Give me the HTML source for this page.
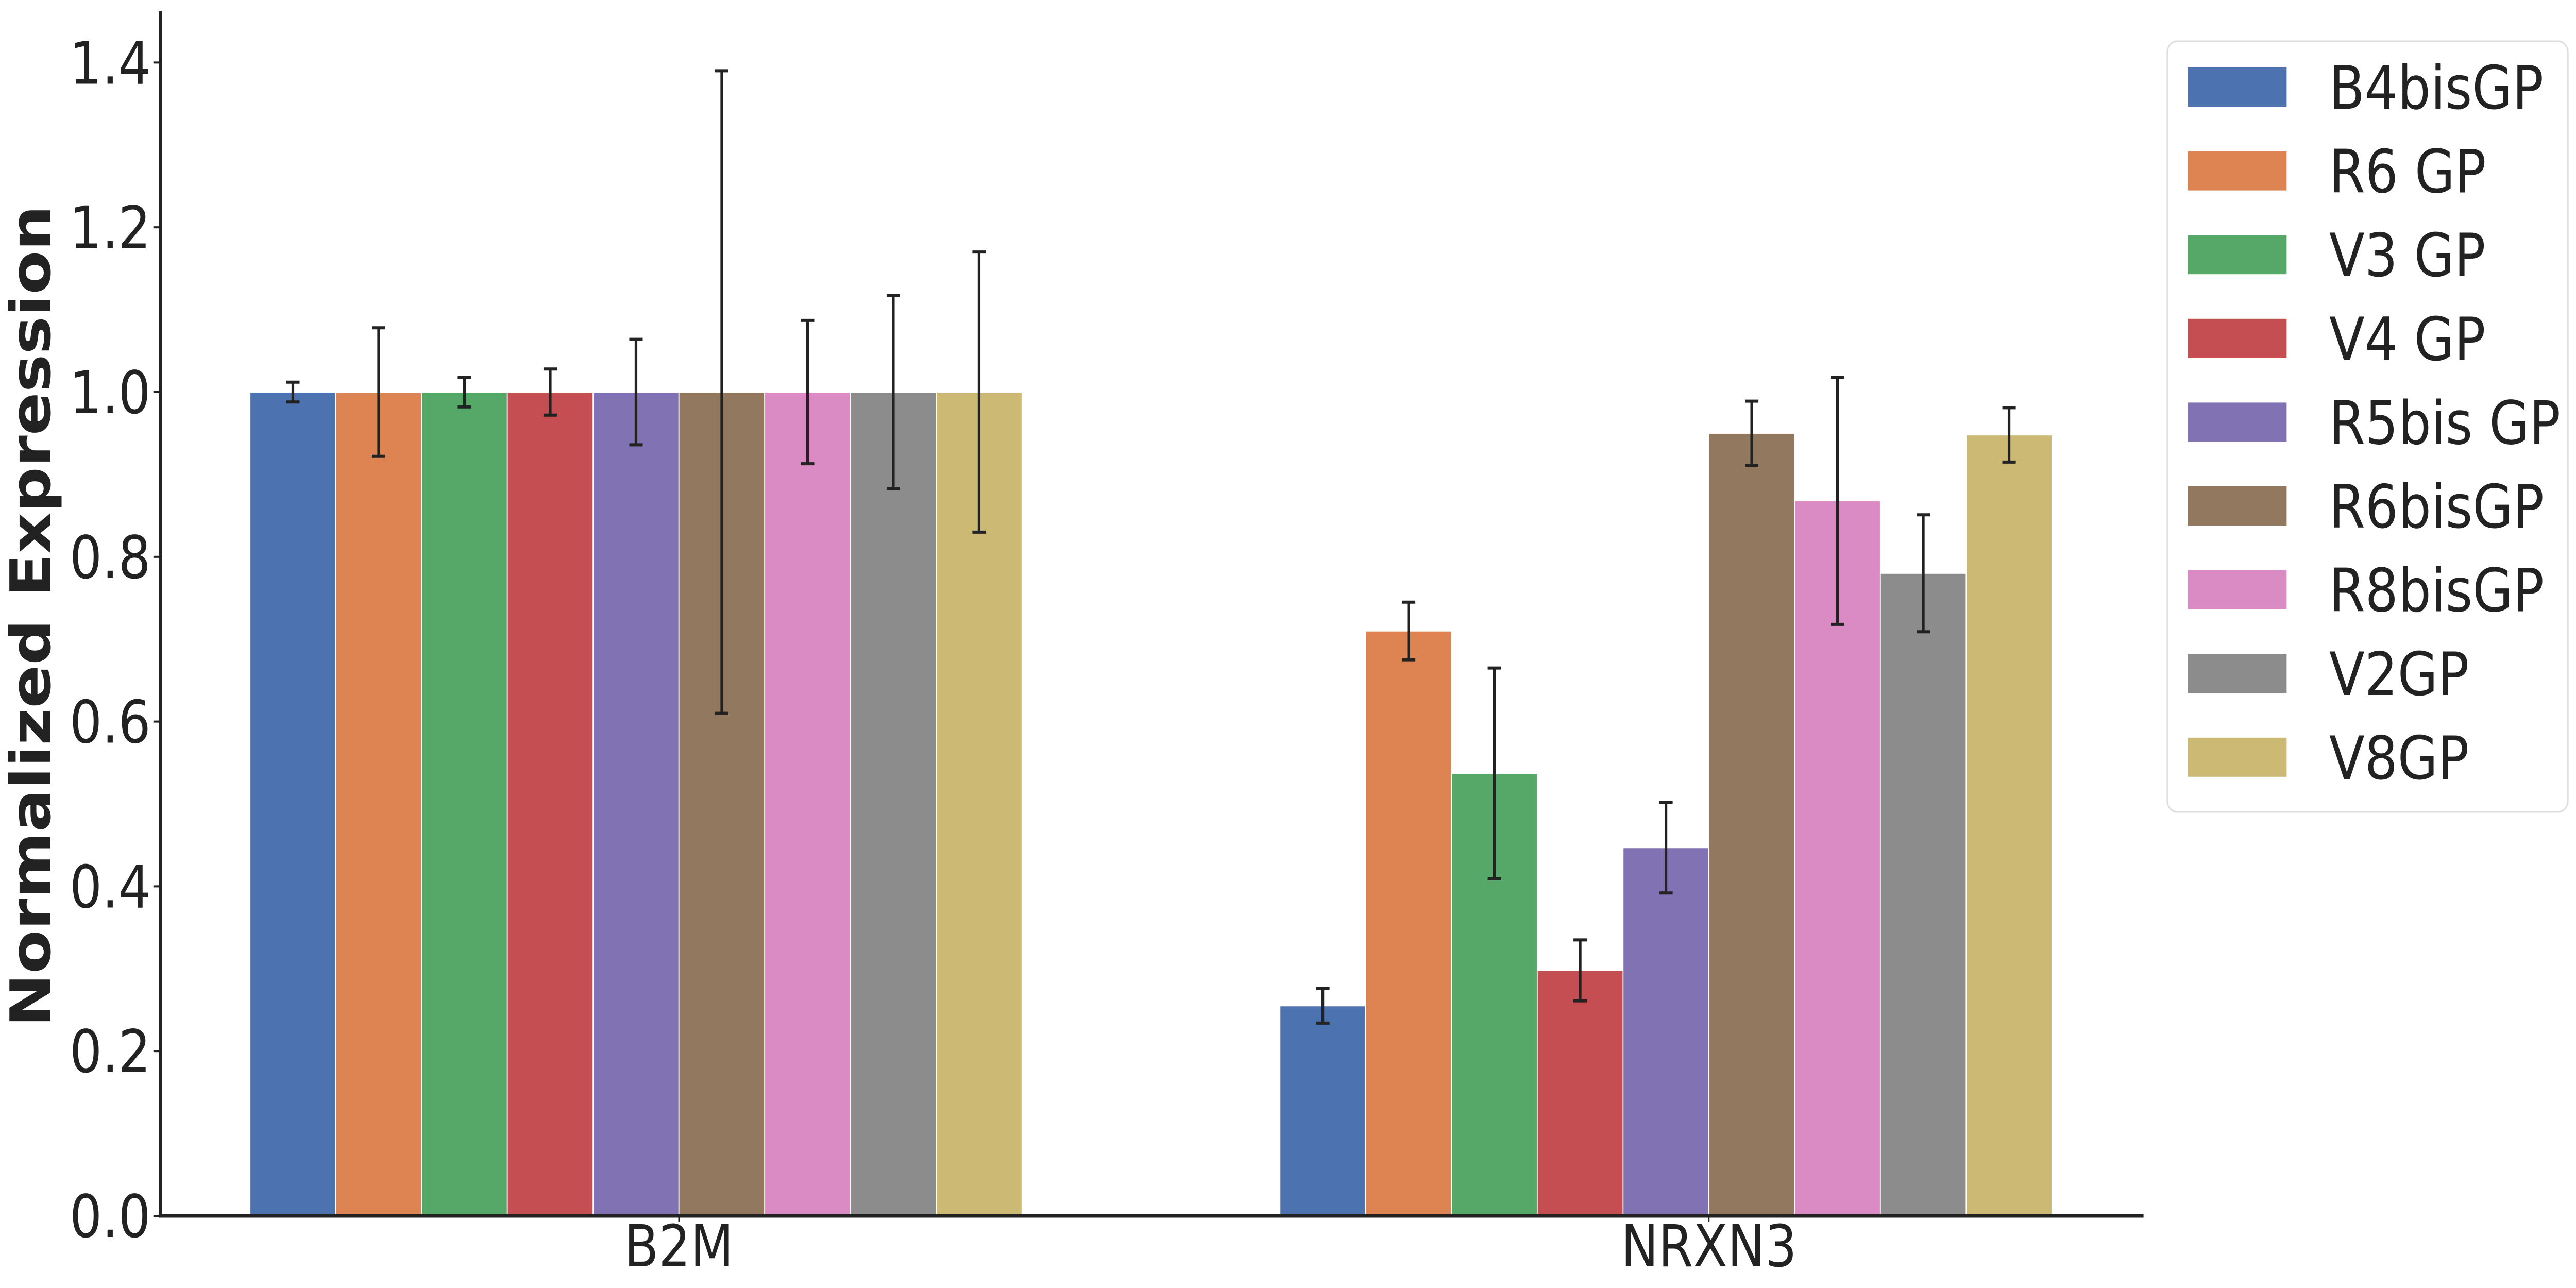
<!DOCTYPE html>
<html><head><meta charset="utf-8"><style>
html,body{margin:0;padding:0;background:#fff;overflow:hidden;width:100%;height:100%;}
svg{display:block;width:100vw;height:100vh;font-family:"DejaVu Sans","Liberation Sans",sans-serif;}
</style></head><body>
<svg id="chart" viewBox="0 0 5760 2500" preserveAspectRatio="none" xmlns="http://www.w3.org/2000/svg">
<g id="bars"></g>
<g id="errs"></g>
<g id="axes"></g>
<g id="legend"></g>
</svg>
<script>
const categories = ["B2M", "NRXN3"];
const seriesNames = ["B4bisGP","R6 GP","V3 GP","V4 GP","R5bis GP","R6bisGP","R8bisGP","V2GP","V8GP"];
const colors = ["#4c72b0","#dd8452","#55a868","#c44e52","#8172b3","#937860","#da8bc3","#8c8c8c","#ccb974"];
const valuesB2M = [1,1,1,1,1,1,1,1,1];
const errorsB2M = [0.012,0.078,0.018,0.028,0.064,0.39,0.087,0.117,0.17];
const valuesNRXN3 = [0.255,0.71,0.537,0.298,0.447,0.95,0.868,0.78,0.948];
const errorsNRXN3 = [0.021,0.035,0.128,0.037,0.055,0.039,0.15,0.071,0.033];
const yTicks = [0,0.2,0.4,0.6,0.8,1.0,1.2,1.4];
const yTickLabels = ["0.0","0.2","0.4","0.6","0.8","1.0","1.2","1.4"];

const NS="http://www.w3.org/2000/svg";
const values=[valuesB2M,valuesNRXN3], errors=[errorsB2M,errorsNRXN3];
const y0=2360, pxPerUnit=1599, xLeft=359, xRight=4793;
const barW=191.8, groupStart=559, groupStep=2303;
function yScale(v){return y0 - v*pxPerUnit;}
function xBar(ci,si){return groupStart + ci*groupStep + si*barW;}
function mk(tag,attrs,parent){const e=document.createElementNS(NS,tag);for(const k in attrs)e.setAttribute(k,attrs[k]);parent.appendChild(e);return e;}
const gB=document.getElementById('bars'), gE=document.getElementById('errs'), gA=document.getElementById('axes'), gL=document.getElementById('legend');

categories.forEach((c,ci)=>{
  seriesNames.forEach((s,si)=>{
    const v=values[ci][si], e=errors[ci][si];
    const x=xBar(ci,si);
    const r=mk('rect',{x:x,y:yScale(v),width:barW,height:yScale(0)-yScale(v),fill:colors[si],stroke:'#fff','stroke-width':2},gB);
    
    
    const cx=x+barW/2;
    const g=mk('g',{stroke:'#222','stroke-width':6},gE);
    
    
    mk('line',{x1:cx,x2:cx,y1:yScale(v+e),y2:yScale(v-e)},g);
    mk('line',{x1:cx-15,x2:cx+15,y1:yScale(v+e),y2:yScale(v+e)},g);
    mk('line',{x1:cx-15,x2:cx+15,y1:yScale(v-e),y2:yScale(v-e)},g);
  });
  const tx=groupStart+ci*groupStep+4.5*barW+96;
  mk('line',{x1:tx,x2:tx,y1:y0,y2:y0+12,stroke:'#222','stroke-width':3},gA);
  const t=mk('text',{x:tx,y:2458,'text-anchor':'middle','font-size':112,fill:'#222'},gA);
  t.textContent=c;
  
  
});

yTicks.forEach((v,i)=>{
  const y=yScale(v);
  mk('line',{x1:343,x2:359,y1:y,y2:y,stroke:'#222','stroke-width':4},gA);
  const t=mk('text',{x:337,y:y+41,'text-anchor':'end','font-size':114,fill:'#222'},gA);
  t.textContent=yTickLabels[i];
  
  
});
const ya=mk('line',{x1:359,x2:359,y1:22,y2:y0+3,stroke:'#222','stroke-width':7},gA);


const xa=mk('line',{x1:356,x2:xRight,y1:y0,y2:y0,stroke:'#222','stroke-width':7},gA);


const yt=mk('text',{transform:'translate(112,1196) rotate(-90)','text-anchor':'middle','font-size':124,'font-weight':'bold',fill:'#222',textLength:1595,lengthAdjust:'spacingAndGlyphs'},gA);
yt.textContent='Normalized Expression';



const lb=mk('rect',{x:4846,y:80,width:896,height:1496,rx:22,fill:'#fff',stroke:'#ddd','stroke-width':3},gL);


seriesNames.forEach((s,si)=>{
  const cy=169+si*162.6;
  const g=mk('g',{},gL);
  
  
  mk('rect',{x:4892,y:cy-38,width:221,height:76,fill:colors[si]},g);
  const t=mk('text',{x:5208,y:cy+42,'font-size':116,fill:'#222'},g);
  t.textContent=s;
});
</script>
</body></html>
